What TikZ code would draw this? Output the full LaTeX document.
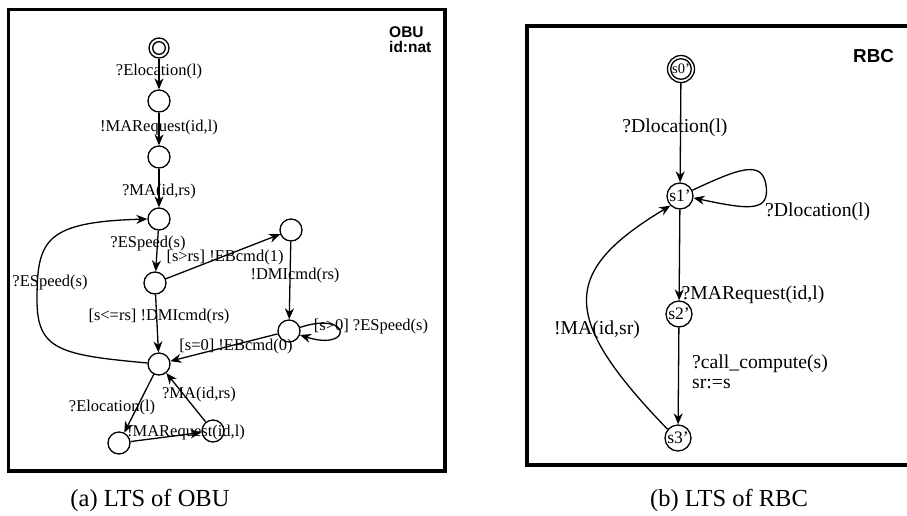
\documentclass[tikz,border=0pt]{standalone}
\usepackage{fontspec}
\setmainfont{Liberation Serif}
\setsansfont{Liberation Sans}
\usetikzlibrary{arrows.meta}
\tikzset{
  st/.style={circle, draw, line width=1.3pt, minimum size=22pt, inner sep=0pt},
  rst/.style={circle, draw, line width=1.3pt, minimum size=26pt, inner sep=0pt, font=\fontsize{17.5}{18}\selectfont},
  arr/.style={line width=1.3pt, -{Stealth[length=11pt,width=9pt,inset=3.5pt]}},
  lbl/.style={inner sep=0pt, font=\fontsize{16.5}{18}\selectfont},
  rlbl/.style={inner sep=0pt, font=\fontsize{19.7}{21}\selectfont},
  frame/.style={line width=3.8pt},
  ttl/.style={inner sep=0pt, font=\sffamily\bfseries\fontsize{15.5}{16}\selectfont},
  captext/.style={inner sep=0pt, font=\fontsize{24.5}{26}\selectfont}
}
\begin{document}
\begin{tikzpicture}[x=1pt,y=-1pt]
\useasboundingbox (0,0) rectangle (907,515);
\clip (0,0) rectangle (907,515);
% frames
\draw[frame] (8.5,9.5) rectangle (445,471);
\draw[frame] (527,26) rectangle (920,465);
% ---------- OBU ----------
\node[ttl, anchor=base west] (tobu) at (389,37) {OBU};
\node[ttl, anchor=base west] (tid) at (389,52) {id:nat};
\node[st, minimum size=20pt] (o0) at (159,48) {};
\draw[line width=1.3pt] (o0.center) circle[radius=6.3];
\node[st] (o1) at (159,101) {};
\node[st] (o2) at (159,157) {};
\node[st] (o3) at (159,219) {};
\node[st] (o4) at (155,283) {};
\node[st] (o5) at (159,364) {};
\node[st] (oR1) at (291,230) {};
\node[st] (oR2) at (289,331) {};
\node[st] (o6) at (119,443) {};
\node[st] (o7) at (213,431) {};
\draw[arr] (o0) -- (o1);
\draw[arr] (o1) -- (o2);
\draw[arr] (o2) -- (o3);
\draw[arr] (o3) -- (o4);
\draw[arr] (o4) -- (oR1);
\draw[arr] (oR1) -- (oR2);
\draw[arr] (oR2.18) .. controls (352,310) and (353,352) .. (oR2.-20);
\draw[arr] (oR2) -- (o5);
\draw[arr] (o4) -- (o5);
\draw[arr] (o5.175) .. controls (60,355) and (37,350) .. (37,300) .. controls (37,240) and (45,222) .. (o3.180);
\draw[arr] (o5) -- (o6);
\draw[arr] (o6) -- (o7);
\draw[arr] (o7) -- (o5);
\node[lbl] (l1) at (159,72) {?Elocation(l)};
\node[lbl] (l2) at (159,128) {!MARequest(id,l)};
\node[lbl] (l3) at (159,192) {?MA(id,rs)};
\node[lbl] (l4) at (148,244) {?ESpeed(s)};
\node[lbl] (l5) at (225,258) {[s>rs] !EBcmd(1)};
\node[lbl] (l6) at (295,276) {!DMIcmd(rs)};
\node[lbl] (l7) at (50,283) {?ESpeed(s)};
\node[lbl] (l8) at (159,317) {[s<=rs] !DMIcmd(rs)};
\node[lbl] (l9) at (371,327) {[s>0] ?ESpeed(s)};
\node[lbl] (l10) at (236,347) {[s=0] !EBcmd(0)};
\node[lbl] (l11) at (199,395) {?MA(id,rs)};
\node[lbl] (l12) at (112,408) {?Elocation(l)};
\node[lbl] (l13) at (186,433) {!MARequest(id,l)};
\node[captext] (capa) at (150,500) {(a) LTS of OBU};
% ---------- RBC ----------
\node[ttl, anchor=base west, font=\sffamily\bfseries\fontsize{18.8}{19}\selectfont] (trbc) at (853,62) {RBC};
\node[rst, minimum size=27pt, font=\fontsize{14.5}{15}\selectfont] (s0) at (681,69) {s0'};
\draw[line width=1.3pt] (s0.center) circle[radius=10.3];
\node[rst] (s1) at (680,196) {s1'};
\node[rst] (s2) at (679,314) {s2'};
\node[rst] (s3) at (678,438) {s3'};
\draw[arr] (s0) -- (s1);
\draw[arr] (s1.25) .. controls (740,168) and (762,160) .. (766,185) .. controls (770,212) and (750,210) .. (s1.-8);
\draw[arr] (s1) -- (s2);
\draw[arr] (s2) -- (s3);
\draw[arr] (s3.140) .. controls (560,318) and (560,272) .. (s1.225);
\node[rlbl] (r1) at (675,128) {?Dlocation(l)};
\node[rlbl, anchor=west] (r2) at (765,212) {?Dlocation(l)};
\node[rlbl] (r3) at (753,295) {?MARequest(id,l)};
\node[rlbl, anchor=west, align=left, font=\fontsize{19.7}{20}\selectfont] (r4) at (692,372) {?call\_compute(s)\\sr:=s};
\node[rlbl] (r5) at (597,330) {!MA(id,sr)};
\node[captext] (capb) at (729,500) {(b) LTS of RBC};
\end{tikzpicture}
\end{document}
